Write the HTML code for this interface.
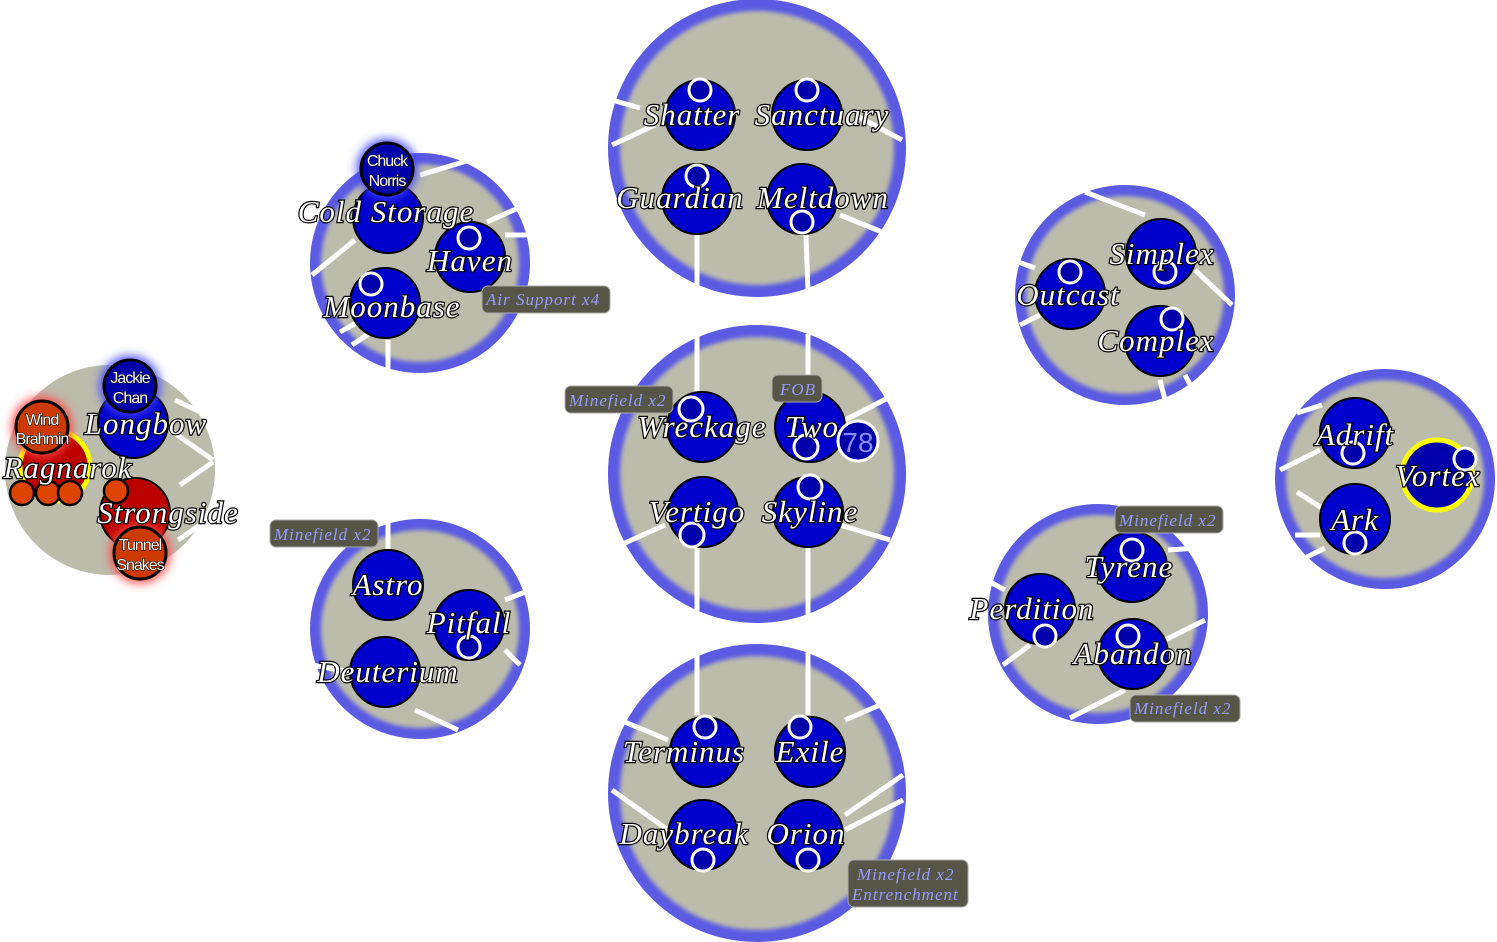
<!DOCTYPE html>
<html><head><meta charset="utf-8"><style>
html,body{margin:0;padding:0;background:#fff;}
svg{display:block}
.lbl{font-family:"Liberation Serif",serif;font-style:italic;font-size:31px;letter-spacing:1px;fill:#fff;stroke:#000;stroke-width:2.4px;paint-order:stroke;text-anchor:middle;}
.sm{font-family:"Liberation Sans",sans-serif;font-size:16px;fill:#fff;stroke:#000;stroke-width:1px;paint-order:stroke;text-anchor:middle;letter-spacing:-1px}
.tag{font-family:"Liberation Serif",serif;font-style:italic;font-size:17px;letter-spacing:1px;fill:#9a9aff;}
.ln{stroke:#fff;stroke-width:5;fill:none}
.nd{fill:#0000cc;stroke:#000;stroke-width:2}
.so{fill:#0000aa;stroke:#fff;stroke-width:3}
</style></head><body>
<svg width="1497" height="942" viewBox="0 0 1497 942">
<defs>
<filter id="blur"><feGaussianBlur stdDeviation="2"/></filter>
<filter id="glowB" x="-1" y="-1" width="3" height="3"><feGaussianBlur stdDeviation="5"/></filter>
</defs>
<g>
<circle cx="110" cy="470" r="105" fill="#bcbcac"/>
<circle cx="757" cy="148" r="149" fill="#5a5ae2"/><circle cx="757" cy="148" r="137" fill="#bcbcac" filter="url(#blur)"/>
<circle cx="757" cy="474" r="149" fill="#5a5ae2"/><circle cx="757" cy="474" r="137" fill="#bcbcac" filter="url(#blur)"/>
<circle cx="757" cy="793" r="149" fill="#5a5ae2"/><circle cx="757" cy="793" r="137" fill="#bcbcac" filter="url(#blur)"/>
<circle cx="420" cy="263" r="110" fill="#5a5ae2"/><circle cx="420" cy="263" r="99" fill="#bcbcac" filter="url(#blur)"/>
<circle cx="420" cy="629" r="110" fill="#5a5ae2"/><circle cx="420" cy="629" r="99" fill="#bcbcac" filter="url(#blur)"/>
<circle cx="1125" cy="295" r="110" fill="#5a5ae2"/><circle cx="1125" cy="295" r="99" fill="#bcbcac" filter="url(#blur)"/>
<circle cx="1098" cy="614" r="110" fill="#5a5ae2"/><circle cx="1098" cy="614" r="99" fill="#bcbcac" filter="url(#blur)"/>
<circle cx="1385" cy="479" r="110" fill="#5a5ae2"/><circle cx="1385" cy="479" r="99" fill="#bcbcac" filter="url(#blur)"/>
</g>
<g class="ln">
<path d="M612 145L655 125M697 235V292M806 235L808 292M855 115L902 140M840 215L882 232M612 100L640 108"/>
<path d="M697 334V392M808 334V392M845 420L888 398M625 543L665 525M840 525L890 540M697 548V618M808 548V618"/>
<path d="M697 652V715M808 652V715M845 720L880 705M620 720L668 740M612 790L668 830M845 830L903 800M845 815L903 775"/>
<path d="M420 175L470 160M487 222L525 205M505 235L528 235M312 275L355 240M388 340V370M352 345L370 333M340 332L358 322"/>
<path d="M388 522V550M505 600L525 592M505 650L520 665M312 665L350 672M415 710L458 730"/>
<path d="M1085 192L1145 215M1195 270L1232 305M1020 325L1040 315M1018 262L1035 268M1160 380L1165 400M1185 375L1193 390"/>
<path d="M990 582L1005 590M1168 550L1198 548M1165 640L1205 620M1003 665L1030 645M1070 718L1125 690"/>
<path d="M1297 413L1322 405M1280 470L1320 450M1297 492L1325 510M1295 535L1320 535M1305 558L1325 548"/>
<path d="M175 400L213 418M170 430L213 460M180 485L213 462M178 540L205 522"/>
</g>
<g>
<circle class="nd" cx="700" cy="115" r="35"/><circle class="nd" cx="807" cy="115" r="35"/>
<circle class="nd" cx="697" cy="199" r="35"/><circle class="nd" cx="802" cy="199" r="35"/>
<circle class="so" cx="700" cy="90" r="11"/><circle class="so" cx="807" cy="90" r="11"/><circle class="so" cx="697" cy="176" r="11"/><circle class="so" cx="802" cy="222" r="11"/>

<circle class="nd" cx="702" cy="427" r="35"/><circle class="nd" cx="810" cy="427" r="35"/>
<circle class="nd" cx="703" cy="512" r="35"/><circle class="nd" cx="808" cy="512" r="35"/>
<circle class="so" cx="691" cy="409" r="12"/><circle class="so" cx="806" cy="447" r="12"/><circle class="so" cx="692" cy="535" r="12"/><circle class="so" cx="810" cy="487" r="12"/>
<circle class="so" cx="858" cy="441" r="20"/>
<text x="858" y="452" font-family="Liberation Sans,sans-serif" font-size="28" fill="#8c8cff" text-anchor="middle">78</text>

<circle class="nd" cx="705" cy="752" r="35"/><circle class="nd" cx="810" cy="752" r="35"/>
<circle class="nd" cx="703" cy="835" r="35"/><circle class="nd" cx="808" cy="835" r="35"/>
<circle class="so" cx="705" cy="727" r="11"/><circle class="so" cx="800" cy="727" r="11"/><circle class="so" cx="703" cy="860" r="11"/><circle class="so" cx="808" cy="860" r="11"/>

<circle class="nd" cx="388" cy="218" r="35"/><circle class="nd" cx="470" cy="257" r="35"/><circle class="nd" cx="385" cy="303" r="35"/>
<circle class="so" cx="469" cy="238" r="11"/><circle class="so" cx="371" cy="284" r="11"/>
<circle cx="387" cy="169" r="30" fill="#4444ff" filter="url(#glowB)"/>
<circle cx="387" cy="169" r="26" fill="#0000aa" stroke="#000" stroke-width="3"/>

<circle class="nd" cx="388" cy="585" r="35"/><circle class="nd" cx="469" cy="625" r="35"/><circle class="nd" cx="385" cy="672" r="35"/>
<circle class="so" cx="469" cy="647" r="11"/>

<circle class="nd" cx="1161" cy="254" r="35"/><circle class="nd" cx="1070" cy="294" r="35"/><circle class="nd" cx="1160" cy="341" r="35"/>
<circle class="so" cx="1165" cy="272" r="11"/><circle class="so" cx="1070" cy="272" r="11"/><circle class="so" cx="1172" cy="319" r="11"/>

<circle class="nd" cx="1132" cy="567" r="35"/><circle class="nd" cx="1040" cy="609" r="35"/><circle class="nd" cx="1133" cy="654" r="35"/>
<circle class="so" cx="1132" cy="550" r="11"/><circle class="so" cx="1045" cy="636" r="11"/><circle class="so" cx="1128" cy="636" r="11"/>

<circle class="nd" cx="1355" cy="433" r="35"/><circle class="nd" cx="1355" cy="519" r="35"/>
<circle cx="1437" cy="475" r="35" fill="#0000aa" stroke="#ffff00" stroke-width="5"/>
<circle class="so" cx="1353" cy="453" r="11"/><circle class="so" cx="1355" cy="543" r="11"/><circle class="so" cx="1465" cy="459" r="11"/>

<circle class="nd" cx="133" cy="423" r="35"/>
<circle cx="130" cy="386" r="30" fill="#4444ff" filter="url(#glowB)"/>
<circle cx="130" cy="386" r="26" fill="#0000aa" stroke="#000" stroke-width="3"/>
<circle cx="55" cy="466" r="35" fill="#bb0000" stroke="#ffff00" stroke-width="5"/>
<circle cx="42" cy="427" r="30" fill="#ff4444" filter="url(#glowB)"/>
<circle cx="42" cy="427" r="26" fill="#cc3a00" stroke="#000" stroke-width="3"/>
<circle cx="22" cy="493" r="12" fill="#dd4400" stroke="#000" stroke-width="2.5"/>
<circle cx="48" cy="493" r="12" fill="#dd4400" stroke="#000" stroke-width="2.5"/>
<circle cx="70" cy="493" r="12" fill="#dd4400" stroke="#000" stroke-width="2.5"/>
<circle cx="135" cy="513" r="35" fill="#bb0000" stroke="#000" stroke-width="2"/>
<circle cx="116" cy="491" r="12" fill="#dd4400" stroke="#000" stroke-width="2.5"/>
<circle cx="140" cy="553" r="30" fill="#ff4444" filter="url(#glowB)"/>
<circle cx="140" cy="553" r="26" fill="#cc3a00" stroke="#000" stroke-width="3"/>
</g>
<g class="lbl">
<text x="692" y="125">Shatter</text><text x="822" y="125">Sanctuary</text>
<text x="680" y="208">Guardian</text><text x="823" y="208">Meltdown</text>
<text x="702" y="437">Wreckage</text><text x="812" y="437">Two</text>
<text x="697" y="522">Vertigo</text><text x="810" y="522">Skyline</text>
<text x="684" y="762">Terminus</text><text x="810" y="762">Exile</text>
<text x="684" y="844">Daybreak</text><text x="806" y="844">Orion</text>
<text x="386" y="222">Cold Storage</text><text x="470" y="271">Haven</text><text x="392" y="317">Moonbase</text>
<text x="388" y="595">Astro</text><text x="469" y="633">Pitfall</text><text x="388" y="682">Deuterium</text>
<text x="1162" y="264">Simplex</text><text x="1068" y="305">Outcast</text><text x="1156" y="351">Complex</text>
<text x="1129" y="577">Tyrene</text><text x="1032" y="619">Perdition</text><text x="1133" y="664">Abandon</text>
<text x="1355" y="445">Adrift</text><text x="1438" y="486">Vortex</text><text x="1355" y="530">Ark</text>
<text x="146" y="434">Longbow</text><text x="68" y="478">Ragnarok</text><text x="168" y="523">Strongside</text>
</g>
<g class="sm">
<text x="387" y="166">Chuck</text><text x="387" y="186">Norris</text>
<text x="130" y="383">Jackie</text><text x="130" y="403">Chan</text>
<text x="42" y="425">Wind</text><text x="42" y="444">Brahmin</text>
<text x="140" y="550">Tunnel</text><text x="140" y="570">Snakes</text>
</g>
<g fill="#555548" stroke="#aaa" stroke-width="1">
<rect x="482" y="286" width="128" height="27" rx="6"/>
<rect x="565" y="386" width="108" height="27" rx="6"/>
<rect x="772" y="375" width="50" height="27" rx="6"/>
<rect x="270" y="520" width="108" height="27" rx="6"/>
<rect x="1115" y="506" width="108" height="27" rx="6"/>
<rect x="1130" y="695" width="110" height="27" rx="6"/>
<rect x="848" y="860" width="120" height="47" rx="6"/>
</g>
<g class="tag">
<text x="486" y="305">Air Support x4</text>
<text x="569" y="406">Minefield x2</text>
<text x="780" y="395">FOB</text>
<text x="274" y="540">Minefield x2</text>
<text x="1119" y="526">Minefield x2</text>
<text x="1134" y="714">Minefield x2</text>
<text x="857" y="880">Minefield x2</text>
<text x="852" y="900">Entrenchment</text>
</g>
</svg>
</body></html>
